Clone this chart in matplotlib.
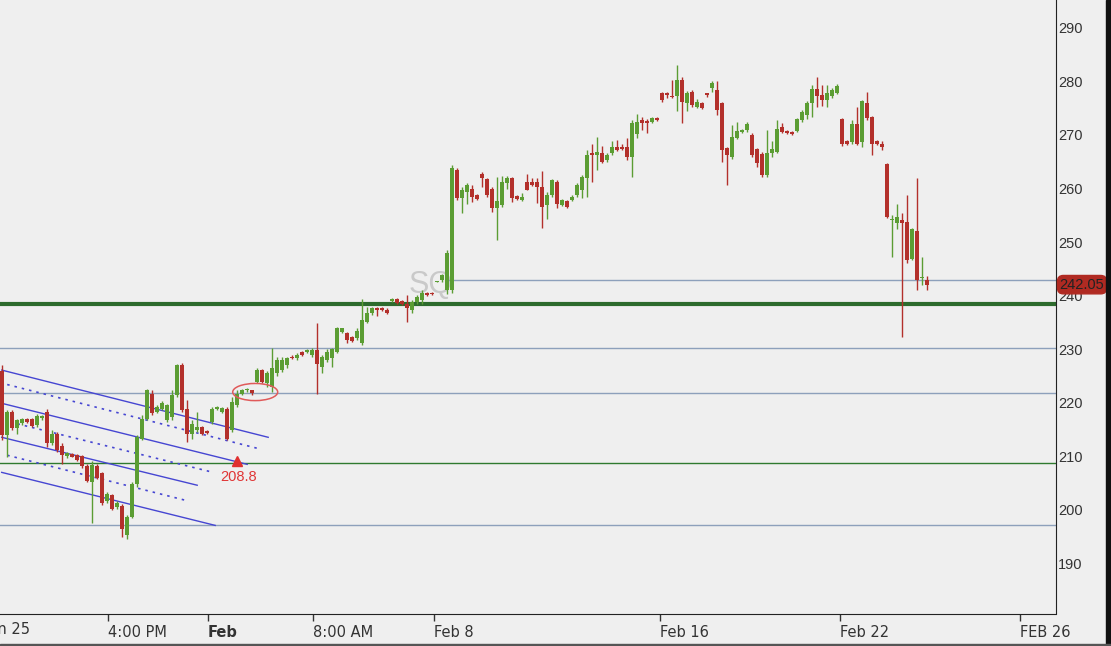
import numpy as np
import matplotlib.pyplot as plt
from matplotlib.patches import Rectangle, Ellipse
from matplotlib.transforms import blended_transform_factory

# OHLC per bar (bar index on x)
opens = [226.0, 214.0, 218.3, 215.2, 216.2, 217.0, 216.9, 215.8, 217.2, 218.3,
         212.4, 214.2, 211.9, 210.0, 210.5, 210.2, 210.0, 208.1, 205.2, 208.1,
         206.8, 201.7, 202.7, 200.6, 200.8, 195.4, 198.7, 204.9, 213.3, 217.0,
         221.7, 218.3, 218.9, 216.7, 217.3, 221.4, 227.0, 218.9, 214.2, 214.9,
         215.4, 214.7, 216.4, 218.9, 218.3, 218.9, 214.9, 219.5, 221.7, 222.3,
         222.3, 223.9, 226.1, 223.6, 223.0, 225.5, 226.1, 227.0, 228.6, 228.3,
         229.5, 229.5, 228.9, 229.8, 226.7, 228.0, 228.3, 229.5, 233.3, 233.1,
         232.2, 232.0, 231.1, 235.1, 236.7, 237.6, 237.6, 237.4, 239.0, 239.3,
         239.0, 238.5, 237.3, 238.9, 239.2, 240.5, 240.4, 242.5, 242.9, 241.0,
         241.0, 263.5, 258.2, 259.4, 259.9, 258.8, 262.8, 261.7, 260.0, 256.3,
         256.9, 261.0, 261.9, 258.6, 257.9, 261.3, 261.3, 261.2, 260.3, 256.9,
         258.8, 261.3, 256.9, 257.7, 257.9, 258.8, 259.7, 261.9, 266.6, 266.3,
         266.7, 265.3, 266.6, 267.7, 267.7, 267.7, 265.9, 270.2, 272.8, 272.6,
         272.5, 273.1, 277.8, 277.8, 277.3, 277.2, 280.3, 276.0, 278.1, 275.3,
         275.9, 277.8, 278.7, 278.4, 275.9, 267.5, 265.9, 269.4, 270.6, 270.9,
         270.0, 267.3, 266.4, 262.5, 266.6, 266.9, 271.4, 270.8, 270.6, 270.8,
         272.8, 273.7, 276.0, 278.5, 277.5, 276.5, 277.2, 277.8, 272.9, 268.8,
         268.6, 272.1, 268.6, 276.0, 273.3, 268.8, 268.3, 264.6, 254.1, 253.6,
         254.2, 253.8, 246.9, 252.1, 243.2, 243.0]
highs = [227.0, 218.6, 218.6, 217.0, 217.2, 217.2, 217.1, 217.9, 217.7, 218.9,
         214.9, 214.5, 212.4, 210.8, 210.7, 210.4, 210.2, 208.6, 209.2, 208.6,
         207.1, 203.3, 203.0, 201.6, 201.1, 199.0, 205.2, 213.9, 217.7, 222.6,
         222.3, 219.5, 220.3, 219.8, 222.3, 227.3, 227.4, 220.5, 216.7, 218.3,
         215.7, 214.9, 219.2, 219.4, 219.2, 219.2, 221.1, 222.3, 222.6, 222.8,
         222.4, 226.4, 226.3, 226.0, 230.2, 228.5, 228.6, 228.6, 228.9, 229.2,
         229.7, 230.1, 230.3, 234.8, 228.9, 230.1, 230.3, 234.2, 234.0, 233.3,
         232.4, 233.9, 239.3, 237.9, 237.9, 237.9, 237.8, 237.6, 239.5, 239.5,
         239.2, 240.1, 239.2, 240.1, 241.0, 240.7, 240.6, 242.7, 244.1, 248.5,
         264.3, 263.8, 260.3, 261.1, 260.7, 259.0, 263.0, 262.0, 260.3, 262.2,
         262.3, 262.3, 262.1, 258.8, 259.1, 262.8, 261.9, 261.9, 263.2, 259.4,
         261.7, 261.6, 258.0, 257.9, 258.7, 261.0, 262.5, 267.2, 268.4, 269.6,
         267.9, 266.6, 268.8, 269.1, 268.4, 269.4, 272.8, 273.9, 273.3, 272.9,
         273.3, 273.3, 278.1, 278.1, 280.3, 283.1, 280.9, 278.3, 278.4, 276.7,
         276.2, 277.9, 280.0, 280.0, 276.2, 267.8, 271.9, 272.5, 271.2, 272.5,
         270.3, 267.5, 266.9, 270.9, 268.8, 272.8, 272.2, 271.0, 270.8, 273.2,
         274.6, 276.3, 279.3, 280.9, 279.3, 279.3, 278.7, 279.5, 273.1, 269.0,
         272.8, 275.2, 276.5, 278.1, 273.6, 269.1, 268.9, 264.8, 255.0, 257.1,
         255.5, 258.8, 252.6, 261.9, 247.3, 243.6]
lows = [213.0, 209.9, 214.9, 214.2, 215.8, 216.2, 215.4, 215.4, 216.7, 211.7,
        212.1, 210.8, 208.6, 209.7, 209.8, 209.2, 207.9, 205.2, 197.5, 205.8,
        200.9, 201.3, 199.9, 200.2, 194.9, 194.6, 198.4, 204.3, 213.0, 216.7,
        217.7, 218.0, 218.7, 216.4, 216.7, 221.1, 218.3, 212.7, 213.3, 214.6,
        214.0, 214.2, 216.1, 218.7, 218.1, 213.0, 214.6, 219.2, 221.4, 222.1,
        221.4, 223.6, 223.6, 223.0, 222.0, 225.0, 225.8, 226.4, 228.1, 228.0,
        228.7, 229.2, 228.6, 221.7, 225.5, 227.7, 226.7, 229.2, 233.0, 231.1,
        231.4, 231.7, 230.8, 234.8, 236.4, 236.2, 237.1, 236.6, 238.8, 238.5,
        238.3, 235.1, 236.7, 238.5, 238.5, 240.0, 240.1, 242.5, 242.6, 240.3,
        240.4, 257.9, 255.4, 257.2, 257.5, 257.8, 260.2, 258.5, 255.7, 250.4,
        256.6, 260.0, 257.5, 257.8, 257.7, 259.7, 260.4, 257.3, 252.6, 254.4,
        258.5, 256.3, 256.7, 256.4, 257.7, 258.5, 258.3, 258.5, 261.3, 263.5,
        264.7, 265.0, 266.3, 267.0, 267.2, 265.3, 262.2, 269.4, 270.9, 270.3,
        272.3, 272.7, 276.2, 276.9, 276.9, 274.4, 272.2, 274.4, 275.2, 275.0,
        274.9, 277.1, 278.1, 273.7, 265.0, 260.7, 265.6, 269.2, 270.4, 270.6,
        265.9, 264.1, 262.2, 262.2, 265.9, 266.6, 270.3, 270.2, 270.0, 270.5,
        272.5, 273.0, 273.4, 275.3, 275.4, 275.3, 276.9, 277.6, 267.9, 268.2,
        268.3, 268.1, 267.7, 272.8, 266.3, 268.1, 267.2, 254.5, 247.3, 252.4,
        232.3, 246.1, 246.6, 241.0, 242.0, 241.0]
closes = [214.0, 218.3, 215.2, 216.7, 217.0, 216.4, 215.6, 217.5, 217.5, 212.4,
          214.1, 211.1, 210.2, 210.6, 209.9, 209.4, 208.1, 205.4, 208.3, 206.0,
          201.2, 202.9, 200.2, 201.3, 196.5, 198.7, 204.9, 213.6, 217.0, 222.3,
          218.0, 219.2, 220.0, 219.5, 221.4, 227.0, 218.6, 214.2, 216.1, 215.5,
          214.2, 214.4, 218.9, 219.2, 219.0, 213.3, 220.2, 221.7, 222.3, 222.5,
          221.9, 226.1, 223.9, 225.5, 226.5, 228.0, 228.0, 228.3, 228.3, 229.0,
          228.9, 229.8, 229.9, 227.3, 228.6, 229.5, 230.1, 233.9, 233.9, 231.7,
          231.6, 233.4, 235.4, 236.8, 237.6, 237.3, 237.3, 236.8, 239.3, 238.7,
          238.5, 237.6, 238.9, 239.7, 240.4, 240.2, 240.3, 242.6, 243.8, 248.0,
          263.8, 258.2, 259.7, 260.7, 258.5, 258.0, 261.9, 258.8, 256.3, 257.7,
          261.3, 261.9, 258.2, 258.0, 258.4, 259.8, 260.7, 260.3, 256.6, 258.8,
          261.6, 257.2, 257.9, 256.6, 258.5, 260.7, 262.2, 266.3, 266.2, 266.9,
          265.0, 266.3, 267.7, 267.2, 267.3, 265.9, 272.2, 272.5, 272.2, 272.2,
          273.1, 272.8, 276.5, 277.5, 277.0, 280.2, 276.2, 277.8, 275.6, 276.2,
          275.0, 277.5, 279.7, 274.7, 267.2, 266.3, 269.7, 270.8, 271.0, 272.1,
          266.3, 264.7, 262.5, 266.6, 267.3, 271.2, 270.6, 270.4, 270.2, 272.9,
          274.2, 275.9, 278.5, 277.3, 276.5, 277.8, 278.4, 279.2, 268.3, 268.4,
          272.1, 268.3, 276.4, 273.1, 268.3, 268.3, 267.7, 254.7, 254.3, 254.7,
          253.6, 246.6, 252.4, 242.9, 243.5, 242.05]

# axis labels
x_tick_pos = [-3.4, 21.2, 41.2, 62.2, 86.5, 131.6, 167.6, 203.6]
x_tick_labels = ['Jan 25', '4:00 PM', 'Feb', '8:00 AM', 'Feb 8', 'Feb 16', 'Feb 22', 'FEB 26']
y_ticks = [190, 200, 210, 220, 230, 240, 250, 260, 270, 280, 290]

# horizontal levels
blue_levels = [230.2, 221.8, 197.1]
upper_level, upper_level_start = 242.9, 89
support_level = 208.8
thick_level = 238.4

# regression channel (bar index, price) pairs
channel_solid = [((0, 226.1), (53.3, 213.55)),
                 ((0, 219.9), (49.1, 208.5)),
                 ((0, 213.55), (39.1, 204.6)),
                 ((0, 207.0), (42.7, 197.1))]
channel_dotted = [((1.1, 223.4), (51.1, 211.5)),
                  ((1.7, 216.4), (42.3, 207.0)),
                  ((1.1, 210.2), (36.7, 201.8))]

last_price = 242.05
symbol = 'SQ'

UP = '#5b9d33'
DOWN = '#b3302b'
BG = '#efefef'

fig = plt.figure(figsize=(11.11, 6.46), dpi=100, facecolor=BG)
ax = fig.add_axes([0, 32.5 / 646, 1055.5 / 1111, 613.5 / 646])
ax.set_facecolor(BG)

o = np.array(opens)
h = np.array(highs)
l = np.array(lows)
c = np.array(closes)
idx = np.arange(len(o))
cols = np.where(c >= o, UP, DOWN)

# levels
for lv in blue_levels:
    ax.axhline(lv, color='#8da0bb', lw=1, zorder=1)
ax.hlines(upper_level, upper_level_start, 215, color='#8da0bb', lw=1, zorder=1)
ax.axhline(support_level, color='#2f7a2f', lw=1, zorder=1)
ax.axhline(thick_level, color='#2d6b2d', lw=3, zorder=1)

# channel
for (x0, y0), (x1, y1) in channel_solid:
    ax.plot([x0, x1], [y0, y1], color='#4646d2', lw=1, zorder=2)
for (x0, y0), (x1, y1) in channel_dotted:
    ax.plot([x0, x1], [y0, y1], color='#4646d2', lw=1.2, ls=(0, (1.5, 3)), zorder=2)

# candles
ax.vlines(idx, l, h, colors=cols, lw=1, zorder=3)
ax.bar(idx, np.maximum(np.abs(c - o), 0.25), bottom=np.minimum(o, c),
       width=0.8, color=cols, zorder=4)

# annotations
ax.add_patch(Ellipse((50.7, 222.0), 9, 3.2, fill=False, ec='#e05a5a', lw=1.1, zorder=5))
ax.plot([47.0], [support_level + 0.4], marker='^', color='#e03030', ms=7, zorder=5)
ax.text(47.3, 206.1, f'{support_level:.1f}', color='#e03535', fontsize=10.5,
        ha='center', va='center', family='Liberation Sans', zorder=5)
ax.text(85.7, 242.0, symbol, color='#c9c9c9', fontsize=22, ha='center', va='center',
        family='Liberation Sans', zorder=0)

ax.set_xlim(-0.34, 210.76)
ax.set_ylim(180.65, 295.2)

# y axis on right
ax.yaxis.tick_right()
ax.set_yticks(y_ticks)
ax.set_yticklabels([str(v) for v in y_ticks], fontsize=10.5, color='#333333',
                   family='Liberation Sans')
ax.tick_params(axis='y', length=0, pad=2)

# x axis
ax.set_xticks(x_tick_pos[1:])
ax.set_xticklabels(x_tick_labels[1:], fontsize=10.5, color='#333333',
                   family=['Liberation Sans Narrow', 'DejaVu Sans'])
for lab in ax.get_xticklabels():
    lab.set_ha('left')
    if lab.get_text() == 'Feb':
        lab.set_fontweight('bold')
ax.tick_params(axis='x', length=5, width=1, color='#333333', pad=3)
trans = blended_transform_factory(ax.transData, ax.transAxes)
ax.text(x_tick_pos[0], -0.014, x_tick_labels[0], transform=trans, fontsize=10.5,
        color='#333333', ha='left', va='top', clip_on=False,
        family=['Liberation Sans Narrow', 'DejaVu Sans'])

for side in ['top', 'left']:
    ax.spines[side].set_visible(False)
ax.spines['right'].set_color('#222222')
ax.spines['bottom'].set_color('#222222')

# last price tag
ax.annotate(f'{last_price:.2f}', xy=(1.0, last_price),
            xycoords=blended_transform_factory(ax.transAxes, ax.transData),
            xytext=(3, 0), textcoords='offset points', ha='left', va='center',
            fontsize=10.5, color='#222222', family='Liberation Sans', annotation_clip=False,
            bbox=dict(boxstyle='round,pad=0.15,rounding_size=0.4', fc='#b02a22', ec='#b02a22'))

# window frame
fig.add_artist(Rectangle((1106 / 1111, 0), 5 / 1111, 1, transform=fig.transFigure,
                         color='#111111', zorder=10))
fig.add_artist(Rectangle((0, 0), 1, 2.5 / 646, transform=fig.transFigure,
                         color='#555555', zorder=10))

fig.savefig('out.png', dpi=100, facecolor=BG)
